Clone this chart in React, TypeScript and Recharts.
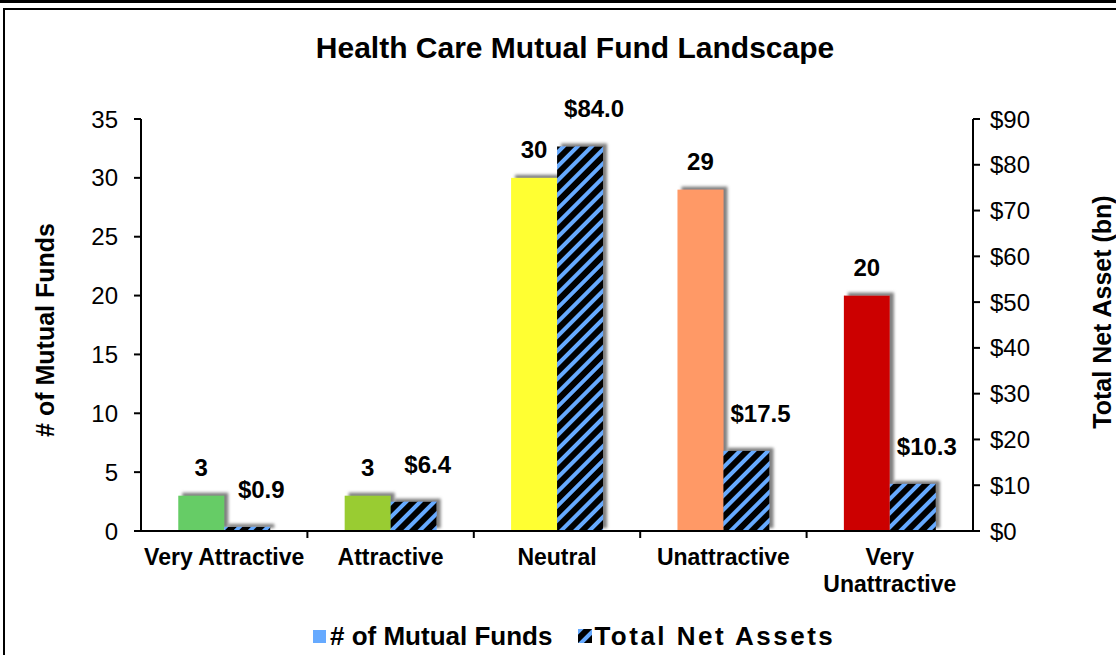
import React from 'react'
import { BarChart, Bar, XAxis, YAxis, Cell, LabelList } from 'recharts'

// Fund rating buckets
const CATEGORIES = ['Very Attractive', 'Attractive', 'Neutral', 'Unattractive', 'Very Unattractive']
const FUND_COUNTS = [3, 3, 30, 29, 20]
const NET_ASSETS = [0.9, 6.4, 84.0, 17.5, 10.3]
const LEFT_TICKS = [0, 5, 10, 15, 20, 25, 30, 35]
const RIGHT_TICKS = [0, 10, 20, 30, 40, 50, 60, 70, 80, 90]

const BAR_COLORS = ['#66CC66', '#99CC33', '#FFFF33', '#FF9966', '#CC0000']
const LEGEND_BLUE = '#66AAFF'
const FONT = '"Liberation Sans", Arial, sans-serif'

const W = 1116
const H = 655
const HALF_BAND = (W - 141 - 143) / CATEGORIES.length / 2

const data = CATEGORIES.map((name, i) => ({
  name,
  funds: FUND_COUNTS[i],
  assets: NET_ASSETS[i],
}))

function ShadowBar(props: any) {
  const { x, y, width, height, fill } = props
  if (!height || height <= 0) return <g />
  return <rect x={x} y={y} width={width} height={height} fill={fill} filter="url(#barShadow)" />
}

function CategoryTick({ x, y, payload, index }: any) {
  const label: string = payload.value
  const cut = label.indexOf(' ')
  const lines = label.length > 16 ? [label.slice(0, cut), label.slice(cut + 1)] : [label]
  return (
    <g>
      {index > 0 && <line x1={x - HALF_BAND} x2={x - HALF_BAND} y1={y} y2={y + 7} stroke="#000" strokeWidth={2} />}
      {lines.map((l, i) => (
        <text key={i} x={x} y={y + 34 + i * 27} textAnchor="middle" fontSize={23} fontWeight="bold" fill="#000" fontFamily={FONT}>
          {l}
        </text>
      ))}
    </g>
  )
}

const fundLabel = (p: any) => (
  <text x={p.x + p.width / 2} y={p.y - 20} textAnchor="middle" fontSize={24} fontWeight="bold" fill="#000" fontFamily={FONT}>
    {p.value}
  </text>
)

const assetLabel = (p: any) => (
  <text x={p.x + p.width / 2 + 14} y={p.y - 29} textAnchor="middle" fontSize={24} fontWeight="bold" fill="#000" fontFamily={FONT}>
    {`$${Number(p.value).toFixed(1)}`}
  </text>
)

export default function App() {
  return (
    <div style={{ position: 'absolute', left: 0, top: 0, width: W, height: H, background: '#fff', overflow: 'hidden', fontFamily: FONT, color: '#000' }}>
      <svg width={0} height={0} style={{ position: 'absolute' }}>
        <defs>
          <pattern id="hatch" patternUnits="userSpaceOnUse" width={10} height={10} patternTransform="rotate(45)">
            <rect width={10} height={10} fill="#000" />
            <rect width={4} height={10} fill={LEGEND_BLUE} />
          </pattern>
          <filter id="barShadow" filterUnits="userSpaceOnUse" x={0} y={0} width={W} height={H}>
            <feDropShadow dx={4} dy={-3} stdDeviation={1.5} floodColor="#808080" floodOpacity={1} />
          </filter>
        </defs>
      </svg>

      {/* frame lines */}
      <div style={{ position: 'absolute', left: 0, top: 0, width: W, height: 3, background: '#000' }} />
      <div style={{ position: 'absolute', left: 3, top: 8, width: W, height: H, borderTop: '2px solid #000', borderLeft: '2px solid #000' }} />

      <div style={{ position: 'absolute', left: 0, top: 0 }}>
        <BarChart width={W} height={H} data={data} margin={{ top: 119, right: 0, bottom: 0, left: 0 }} barCategoryGap="22.4%" barGap={0}>
          <XAxis
            dataKey="name"
            height={124}
            interval={0}
            tick={<CategoryTick />}
            tickLine={false}
            tickSize={0}
            tickMargin={0}
            axisLine={{ stroke: '#000', strokeWidth: 2 }}
          />
          <YAxis
            yAxisId="left"
            orientation="left"
            width={141}
            domain={[0, 35]}
            ticks={LEFT_TICKS}
            interval={0}
            tickSize={7}
            tickMargin={16}
            axisLine={{ stroke: '#000', strokeWidth: 2 }}
            tickLine={{ stroke: '#000', strokeWidth: 2 }}
            tick={{ fontSize: 24, fill: '#000', fontFamily: FONT }}
          />
          <YAxis
            yAxisId="right"
            orientation="right"
            width={143}
            domain={[0, 90]}
            ticks={RIGHT_TICKS}
            interval={0}
            tickSize={7}
            tickMargin={10}
            tickFormatter={(v) => `$${v}`}
            axisLine={{ stroke: '#000', strokeWidth: 2 }}
            tickLine={{ stroke: '#000', strokeWidth: 2 }}
            tick={{ fontSize: 24, fill: '#000', fontFamily: FONT }}
          />
          <Bar dataKey="funds" yAxisId="left" shape={ShadowBar} isAnimationActive={false}>
            {data.map((d, i) => (
              <Cell key={d.name} fill={BAR_COLORS[i]} />
            ))}
            <LabelList dataKey="funds" content={fundLabel} />
          </Bar>
          <Bar dataKey="assets" yAxisId="right" fill="url(#hatch)" shape={ShadowBar} isAnimationActive={false}>
            <LabelList dataKey="assets" content={assetLabel} />
          </Bar>
        </BarChart>
      </div>

      {/* title */}
      <div style={{ position: 'absolute', left: 18, width: W - 2, top: 31, textAlign: 'center', fontSize: 30, lineHeight: '34px', fontWeight: 'bold' }}>
        Health Care Mutual Fund Landscape
      </div>

      {/* axis titles */}
      <div style={{ position: 'absolute', left: 45, top: 330, transform: 'translate(-50%, -50%) rotate(-90deg)', whiteSpace: 'nowrap', fontSize: 25, fontWeight: 'bold' }}>
        # of Mutual Funds
      </div>
      <div style={{ position: 'absolute', left: 1102, top: 312, transform: 'translate(-50%, -50%) rotate(-90deg)', whiteSpace: 'nowrap', fontSize: 25, fontWeight: 'bold' }}>
        Total Net Asset (bn)
      </div>

      {/* legend */}
      <div style={{ position: 'absolute', left: 313, top: 621, display: 'flex', alignItems: 'center', fontSize: 26, fontWeight: 'bold', lineHeight: '30px' }}>
        <span style={{ width: 13, height: 13, background: LEGEND_BLUE, marginRight: 4, display: 'inline-block' }} />
        <span># of Mutual Funds</span>
        <svg width={14} height={14} style={{ marginLeft: 26, marginRight: 2 }}>
          <rect width={14} height={14} fill="url(#hatch)" />
        </svg>
        <span style={{ letterSpacing: 2.5 }}>Total Net Assets</span>
      </div>
    </div>
  )
}
